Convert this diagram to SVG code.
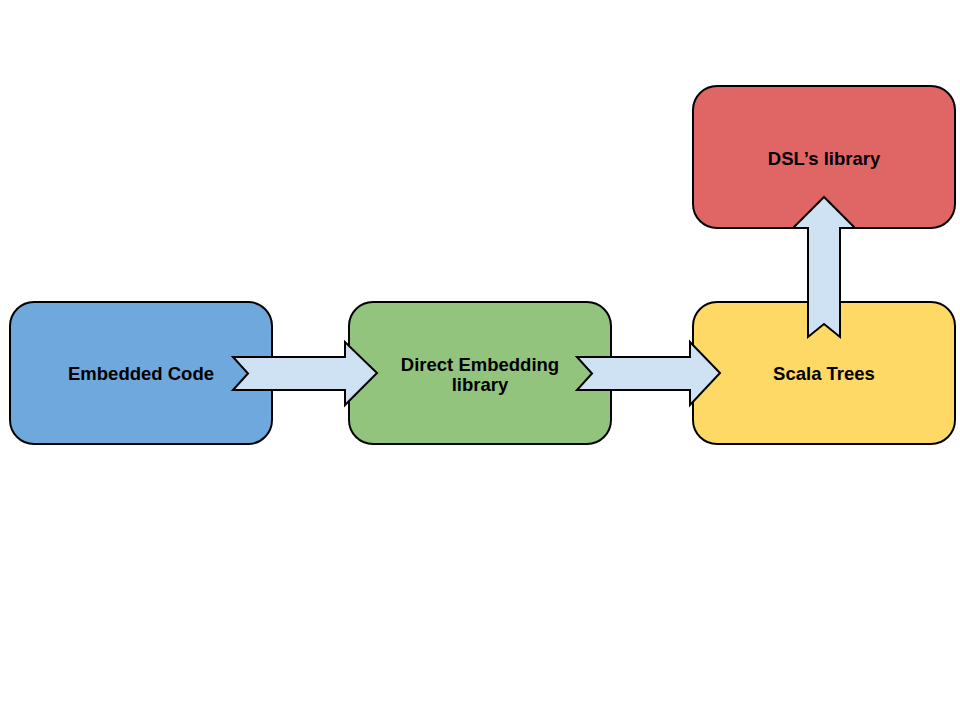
<svg xmlns="http://www.w3.org/2000/svg" width="960" height="720" viewBox="0 0 960 720">
<style>
.box{stroke:#000;stroke-width:2}
.lbl{font-family:"Liberation Sans",Arial,sans-serif;font-weight:bold;font-size:18.5px;fill:#000;text-anchor:middle}
.arr{fill:#cfe2f3;stroke:#000;stroke-width:2;stroke-linejoin:miter}
</style>
<rect width="960" height="720" fill="#fff"/>
<g id="embedded-code">
<rect class="box" x="10" y="302" width="262" height="142" rx="24" fill="#6fa8dc"/>
<text class="lbl" x="141" y="380">Embedded Code</text>
</g>
<g id="direct-embedding">
<rect class="box" x="349" y="302" width="262" height="142" rx="24" fill="#93c47d"/>
<text class="lbl" x="480" y="371">Direct Embedding</text>
<text class="lbl" x="480" y="391">library</text>
</g>
<g id="scala-trees">
<rect class="box" x="693" y="302" width="262" height="142" rx="24" fill="#ffd966"/>
<text class="lbl" x="824" y="380">Scala Trees</text>
</g>
<g id="dsl-library">
<rect class="box" x="693" y="86" width="262" height="142" rx="24" fill="#e06666"/>
<text class="lbl" x="824" y="165">DSL’s library</text>
</g>
<g id="connectors">
<polygon class="arr" points="233,357 345,357 345,342 377,373 345,405 345,390 233,390 248,373.5"/>
<polygon class="arr" points="577,357 690,357 690,342 720,373 690,405 690,390 577,390 592,373.5"/>
<polygon class="arr" points="808,337 808,228 793,228 824,197 855,228 840,228 840,337 824,324"/>
</g>
</svg>
